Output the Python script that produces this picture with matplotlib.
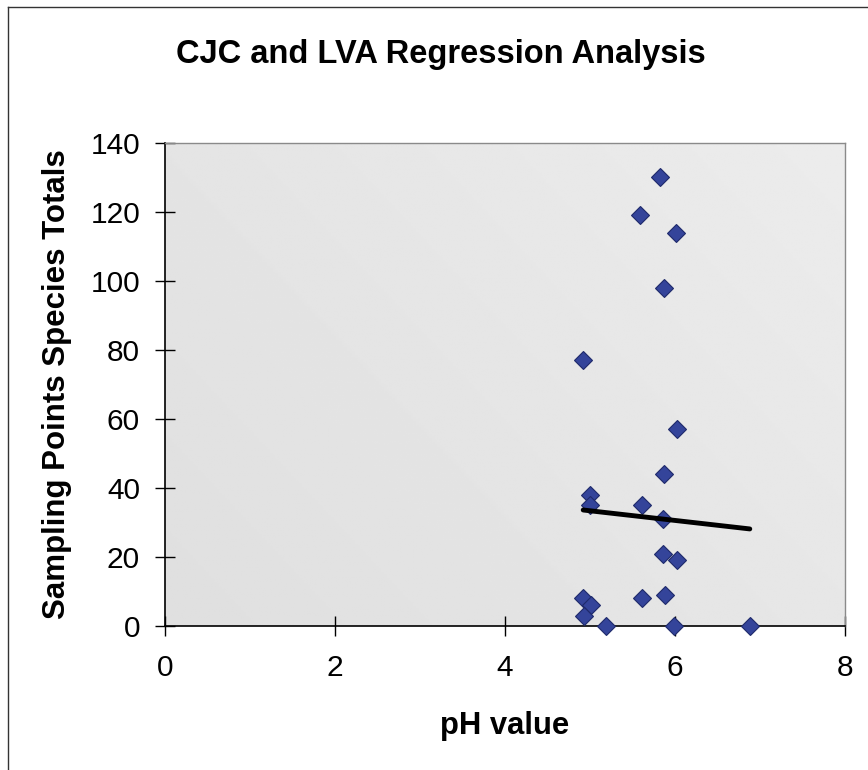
import numpy as np
import matplotlib.pyplot as plt
from matplotlib.lines import Line2D

# ---------- data
ph = [5.82, 5.59, 6.01, 5.87, 4.92, 6.02, 5.87, 5.00, 5.61, 5.86, 5.00,
      5.86, 6.02, 5.61, 5.88, 4.92, 5.01, 4.93, 5.19, 5.99, 6.88]
species = [130, 119, 114, 98, 77, 57, 44, 38, 35, 31, 35,
           21, 19, 8, 9, 8, 6, 3, 0, 0, 0]

# linear trendline coefficients
trend_slope = -2.8
trend_intercept = 47.4

x_ticks = [0, 2, 4, 6, 8]
y_ticks = [0, 20, 40, 60, 80, 100, 120, 140]

plt.rcParams['font.family'] = ['Liberation Sans', 'DejaVu Sans']

fig = plt.figure(figsize=(8.68, 7.7), dpi=100)
ax = fig.add_axes([0.1901, 0.187, 0.7834, 0.6273])

# light grey plot area with a soft gradient
grad = np.linspace(0, 1, 256)
gx, gy = np.meshgrid(grad, grad)
shade = 0.875 + 0.05 * (0.6 * gx + 0.4 * gy)
ax.imshow(shade, cmap='gray', vmin=0, vmax=1, extent=[0, 1, 0, 1],
          transform=ax.transAxes, aspect='auto', origin='lower', zorder=0)

ax.plot(ph, species, linestyle='none', marker='D', markersize=9.5,
        markerfacecolor='#34449a', markeredgecolor='#1f2a6b',
        markeredgewidth=0.8, zorder=3, clip_on=False)

tx = np.array([min(ph), max(ph)])
ax.plot(tx, trend_slope * tx + trend_intercept, color='black', linewidth=3.5,
        solid_capstyle='round', zorder=4)

ax.set_xlim(0, 8)
ax.set_ylim(0, 140)
ax.set_xticks(x_ticks)
ax.set_yticks(y_ticks)
ax.tick_params(direction='inout', length=14, width=1, labelsize=21.5, pad=11)
ax.tick_params(axis='x', pad=13)

for side in ['top', 'right']:
    ax.spines[side].set_color('#8a8a8a')
    ax.spines[side].set_linewidth(1)
for side in ['left', 'bottom']:
    ax.spines[side].set_color('black')
    ax.spines[side].set_linewidth(1.2)

ax.set_xlabel('pH value', fontsize=22.3, fontweight='bold', labelpad=21)
ax.set_ylabel('Sampling Points Species Totals', fontsize=22.5,
              fontweight='bold', labelpad=13)
fig.text(0.508, 0.929, 'CJC and LVA Regression Analysis', fontsize=23.5,
         fontweight='bold', ha='center', va='center')

# chart frame (left and top edges)
fig.add_artist(Line2D([0.0092, 0.0092], [0, 0.991], color='#333333', lw=1))
fig.add_artist(Line2D([0.0092, 1], [0.991, 0.991], color='#333333', lw=1))

fig.savefig('out.png', dpi=100)
